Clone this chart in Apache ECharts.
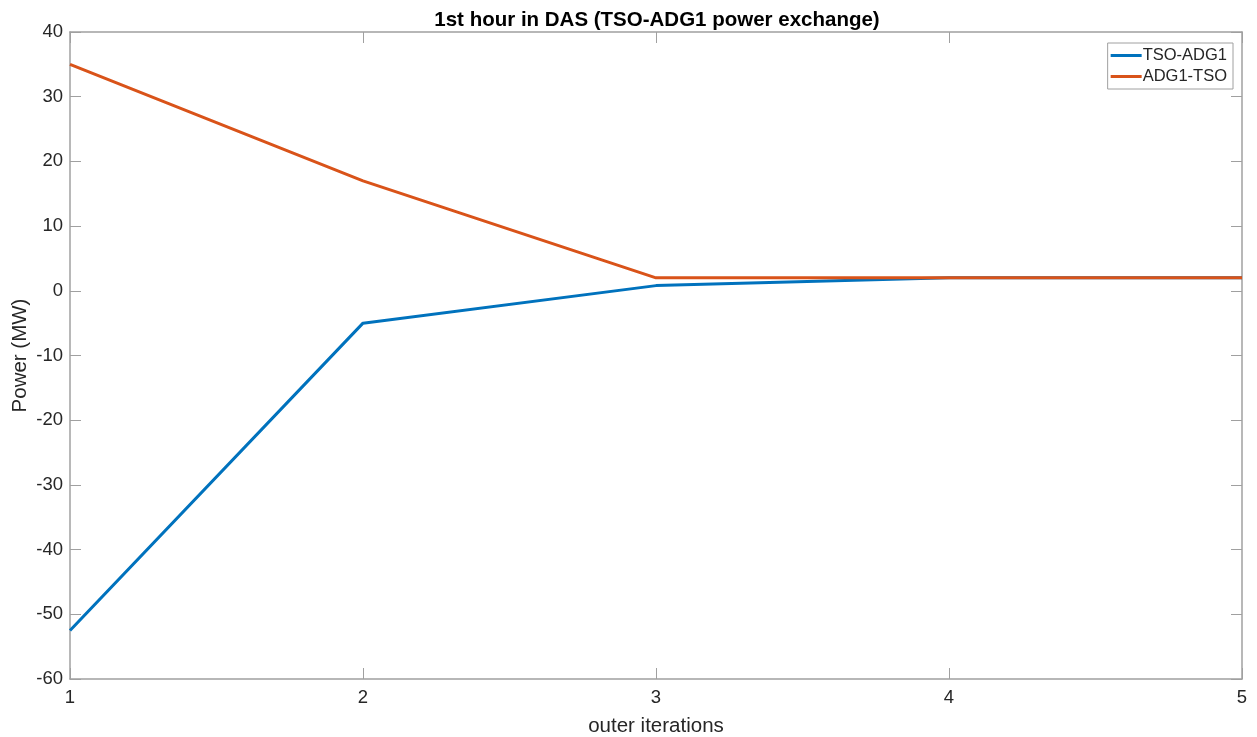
<!DOCTYPE html>
<html>
<head>
<meta charset="utf-8">
<script src="https://cdn.jsdelivr.net/npm/echarts@6/dist/echarts.min.js"></script>
<style>
  html, body { margin: 0; padding: 0; background: #fff; }
  #chart { width: 1257px; height: 737px; }
</style>
</head>
<body>
<div id="chart"></div>
<script>
var iterations = [1, 2, 3, 4, 5];
var tsoAdg1 = [-52.5, -5, 0.8, 2, 2];
var adg1Tso = [35, 17, 2, 2, 2];

function pairs(xs, ys) {
    return xs.map(function (x, i) { return [x, ys[i]]; });
}

var textColor = '#262626';
var axisColor = '#a0a0a0';
var font = 'Liberation Sans, Arial, sans-serif';

var chartDom = document.getElementById('chart');
var myChart = echarts.init(chartDom);

// ticks pointing inward on every side, like a matlab box
function boxAxis(extra) {
    var base = {
        type: 'value',
        axisLine: { show: true, onZero: false, lineStyle: { color: axisColor, width: 1.5 } },
        axisTick: { show: true, inside: true, length: 11, lineStyle: { color: axisColor } },
        splitLine: { show: false }
    };
    return Object.assign(base, extra);
}

var option = {
    backgroundColor: '#fff',
    textStyle: { fontFamily: font },
    title: {
        text: '1st hour in DAS (TSO-ADG1 power exchange)',
        left: 652,
        top: 5,
        textAlign: 'center',
        textStyle: { fontSize: 20.5, fontWeight: 'bold', color: '#000', fontFamily: font }
    },
    legend: {
        orient: 'vertical',
        right: 24,
        top: 43,
        padding: [4, 6, 4, 3],
        itemGap: 4,
        itemWidth: 31,
        itemHeight: 3,
        icon: 'rect',
        borderColor: '#a0a0a0',
        borderWidth: 1,
        borderRadius: 0,
        backgroundColor: '#fff',
        textStyle: { fontSize: 16.5, color: textColor, fontFamily: font, padding: [0, 0, 0, -4] },
        data: ['TSO-ADG1', 'ADG1-TSO']
    },
    grid: { left: 70, right: 15, top: 32, bottom: 58, containLabel: false, outerBoundsMode: 'none' },
    xAxis: [
        boxAxis({
            min: 1,
            max: 5,
            interval: 1,
            name: 'outer iterations',
            nameLocation: 'middle',
            nameGap: 37,
            nameMoveOverlap: false,
            nameTextStyle: { fontSize: 20.5, color: textColor },
            axisLabel: { fontSize: 18.5, color: textColor, margin: 9 }
        }),
        boxAxis({
            position: 'top',
            min: 1,
            max: 5,
            interval: 1,
            axisLabel: { show: false }
        })
    ],
    yAxis: [
        boxAxis({
            min: -60,
            max: 40,
            interval: 10,
            name: 'Power (MW)',
            nameLocation: 'middle',
            nameGap: 39,
            nameMoveOverlap: false,
            nameTextStyle: { fontSize: 20.5, color: textColor },
            axisLabel: { fontSize: 18.5, color: textColor, margin: 7 }
        }),
        boxAxis({
            position: 'right',
            min: -60,
            max: 40,
            interval: 10,
            axisLabel: { show: false }
        })
    ],
    series: [
        {
            name: 'TSO-ADG1',
            type: 'line',
            symbol: 'none',
            data: pairs(iterations, tsoAdg1),
            lineStyle: { color: '#0072BD', width: 3 },
            itemStyle: { color: '#0072BD' },
            z: 3
        },
        {
            name: 'ADG1-TSO',
            type: 'line',
            symbol: 'none',
            data: pairs(iterations, adg1Tso),
            lineStyle: { color: '#D95319', width: 3 },
            itemStyle: { color: '#D95319' },
            z: 4
        }
    ]
};

myChart.setOption(option);
</script>
</body>
</html>
